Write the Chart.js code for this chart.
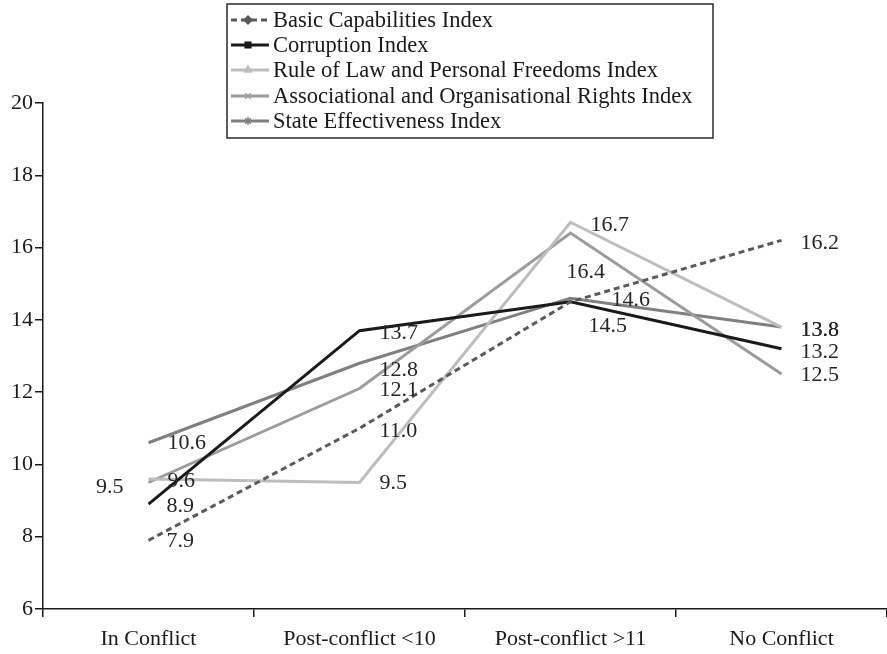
<!DOCTYPE html>
<html>
<head>
<meta charset="utf-8">
<script src="https://cdn.jsdelivr.net/npm/chart.js@4.4.1/dist/chart.umd.min.js"></script>
<style>
html,body{margin:0;padding:0;background:#fff;}
#wrap{width:887px;height:654px;position:relative;}
</style>
</head>
<body>
<div id="wrap"><canvas id="c" width="887" height="654"></canvas></div>
<script>
const categories = ["In Conflict", "Post-conflict <10", "Post-conflict >11", "No Conflict"];
const seriesNames = [
  "Basic Capabilities Index",
  "Corruption Index",
  "Rule of Law and Personal Freedoms Index",
  "Associational and Organisational Rights Index",
  "State Effectiveness Index"
];
const basicCapabilities = [7.9, 11.0, 14.5, 16.2];
const corruption = [8.9, 13.7, 14.5, 13.2];
const ruleOfLaw = [9.6, 9.5, 16.7, 13.8];
const associational = [9.5, 12.1, 16.4, 12.5];
const stateEffectiveness = [10.6, 12.8, 14.6, 13.8];
const yTicks = [6, 8, 10, 12, 14, 16, 18, 20];
// which point labels are shown (Basic Capabilities at Post-conflict >11 is not labelled)
const showLabel = [
  [true, true, false, true],
  [true, true, true, true],
  [true, true, true, true],
  [true, true, true, true],
  [true, true, true, true]
];

const FONT = "'Liberation Serif', 'DejaVu Serif', serif";
const FS = 22;
const LFS = 22.5;
const styles = [
  {color:'#5a5a5a', dash:[6,4], point:'rectRot', width:3},
  {color:'#1a1a1a', dash:[], point:'rect', width:3},
  {color:'#bdbdbd', dash:[], point:'triangle', width:3},
  {color:'#9c9c9c', dash:[], point:'crossRot', width:3},
  {color:'#808080', dash:[], point:'star', width:3}
];
// label placement: [dx, dy, align]
const labelPos = [
  [[18,1,'left'],[20,3,'left'],null,[19,3,'left']],
  [[18,2,'left'],[20,3,'left'],[18,24,'left'],[19,3,'left']],
  [[19,2,'left'],[20,1,'left'],[20,3,'left'],[19,3,'left']],
  [[-25,5,'right'],[20,2,'left'],[-4,39,'left'],[19,1,'left']],
  [[19,0,'left'],[20,7,'left'],[41,2,'left'],[19,3,'left']]
];

const allSeries = [basicCapabilities, corruption, ruleOfLaw, associational, stateEffectiveness];

const datasets = allSeries.map((d, i) => ({
  label: seriesNames[i],
  data: d,
  borderColor: styles[i].color,
  backgroundColor: styles[i].color,
  borderWidth: styles[i].width,
  borderDash: styles[i].dash,
  pointRadius: 0,
  pointHoverRadius: 0,
  pointStyle: styles[i].point,
  tension: 0,
  fill: false
}));

const labelsPlugin = {
  id: 'pointLabels',
  afterDatasetsDraw(chart) {
    const ctx = chart.ctx;
    ctx.save();
    ctx.font = FS + "px " + FONT;
    ctx.fillStyle = '#262626';
    ctx.textBaseline = 'middle';
    chart.data.datasets.forEach((ds, i) => {
      const meta = chart.getDatasetMeta(i);
      meta.data.forEach((pt, j) => {
        if (!showLabel[i][j]) return;
        const p = labelPos[i][j];
        if (!p) return;
        ctx.textAlign = p[2];
        ctx.fillText(ds.data[j].toFixed(1), pt.x + p[0], pt.y + p[1]);
      });
    });
    ctx.restore();
  }
};

const legendPlugin = {
  id: 'boxLegend',
  afterDraw(chart) {
    const ctx = chart.ctx;
    ctx.save();
    const L = 227, T = 4, R = 713, B = 138;
    ctx.strokeStyle = '#2a2a2a';
    ctx.lineWidth = 1.5;
    ctx.setLineDash([]);
    ctx.strokeRect(L, T, R - L, B - T);
    const rows = [20, 45, 70, 96, 121];
    chart.data.datasets.forEach((ds, i) => {
      const y = rows[i];
      ctx.save();
      ctx.strokeStyle = ds.borderColor;
      ctx.lineWidth = 3;
      ctx.setLineDash(ds.borderDash || []);
      ctx.beginPath();
      ctx.moveTo(231, y);
      ctx.lineTo(269, y);
      ctx.stroke();
      ctx.setLineDash([]);
      ctx.fillStyle = ds.borderColor;
      ctx.strokeStyle = ds.borderColor;
      ctx.lineWidth = 1.5;
      Chart.helpers.drawPoint(ctx, {pointStyle: ds.pointStyle, radius: 4, rotation: 0, borderWidth: 1.5}, 248, y);
      ctx.restore();
      ctx.fillStyle = '#1a1a1a';
      ctx.font = LFS + "px " + FONT;
      ctx.textBaseline = 'middle';
      ctx.textAlign = 'left';
      ctx.fillText(ds.label, 273, y + 1);
    });
    ctx.restore();
  }
};

new Chart(document.getElementById('c'), {
  type: 'line',
  data: { labels: categories, datasets: datasets },
  plugins: [labelsPlugin, legendPlugin],
  options: {
    responsive: false,
    animation: false,
    devicePixelRatio: 1,
    layout: { padding: { top: 103, right: 0, bottom: 0, left: 0 } },
    plugins: { legend: { display: false }, tooltip: { enabled: false } },
    scales: {
      x: {
        type: 'category',
        offset: true,
        border: { display: true, color: '#1a1a1a', width: 1.5 },
        grid: { display: true, offset: true, drawOnChartArea: false, drawTicks: true, tickLength: 8, color: '#1a1a1a', lineWidth: 1.5 },
        ticks: { color: '#1a1a1a', font: { family: FONT, size: FS }, padding: 9, maxRotation: 0, autoSkip: false },
        afterFit(s) { s.height = 45; }
      },
      y: {
        min: 6, max: 20,
        afterBuildTicks(s) { s.ticks = yTicks.map(v => ({ value: v })); },
        border: { display: true, color: '#1a1a1a', width: 1.5 },
        grid: { display: true, drawOnChartArea: false, drawTicks: true, tickLength: 8, color: '#1a1a1a', lineWidth: 1.5 },
        ticks: { color: '#1a1a1a', font: { family: FONT, size: FS }, padding: 2 },
        afterFit(s) { s.width = 43; }
      }
    }
  }
});
</script>
</body>
</html>
